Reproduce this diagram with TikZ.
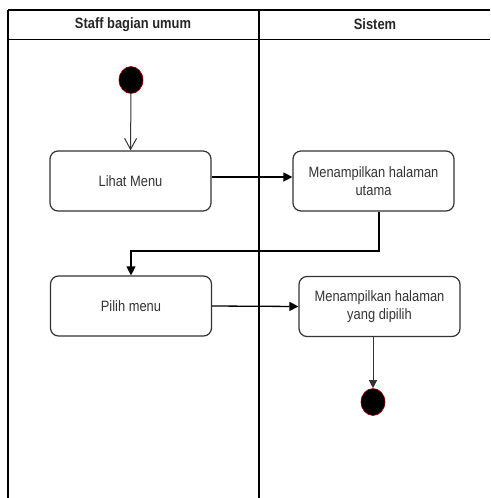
\documentclass[tikz,border=0pt]{standalone}
\usepackage{fontspec}
\setmainfont{Liberation Sans}[FakeStretch=0.86]
\usetikzlibrary{arrows.meta,shapes.geometric}

\definecolor{boxline}{HTML}{333333}
\definecolor{txt}{HTML}{333333}
\definecolor{rim}{HTML}{B00000}

\tikzset{
  lane/.style={line width=1.6pt, black},
  action/.style={draw=boxline, line width=1.2pt, rounded corners=8pt,
    minimum width=161pt, minimum height=60pt, align=center,
    text=txt, font=\fontsize{15pt}{18pt}\selectfont},
  header/.style={font=\bfseries\fontsize{15pt}{18pt}\selectfont, text=black!85},
  dot/.style={ellipse, fill=black, draw=rim, line width=0.6pt,
    minimum width=24pt, minimum height=27pt, inner sep=0pt},
  flow/.style={line width=1.3pt, black, -{Triangle[length=9pt,width=9pt]}},
  openflow/.style={line width=1pt, black!80, -{Straight Barb[length=11pt,width=12pt]}},
  thinflow/.style={line width=1pt, black!80, -{Triangle[length=8pt,width=8pt]}},
}

\begin{document}
\begin{tikzpicture}[x=1pt,y=-1pt]
  \useasboundingbox (0,0) rectangle (490,498);

  % swimlane frame
  \draw[lane] (8,10) -- (490,10);
  \draw[lane] (8,39.5) -- (490,39.5);
  \draw[lane] (8,10) -- (8,498);
  \draw[lane] (259,10) -- (259,498);

  \node[header] (lanea) at (133,24.5) {Staff bagian umum};
  \node[header] (laneb) at (375,24.5) {Sistem};

  % activities
  \node[dot] (start) at (131,80) {};
  \node[action] (lihat) at (130.5,181) {Lihat Menu};
  \node[action] (utama) at (373.5,181) {Menampilkan halaman\\utama};
  \node[action] (pilih) at (131,306) {Pilih menu};
  \node[action] (dipilih) at (379.5,306.5) {Menampilkan halaman\\yang dipilih};
  \node[dot] (end) at (373,402) {};

  \coordinate (turn) at (379,251);

  % control flow
  \draw[openflow] (start.south) -- (lihat.north);
  \draw[flow] ([yshift=4pt]lihat.east) -- ([yshift=4pt]utama.west);
  \draw[flow] (utama.south -| turn) -- (turn) -- (turn -| pilih.north) -- (pilih.north);
  \draw[flow] (pilih.east) -- (dipilih.west);
  \draw[thinflow] (dipilih.south -| end) -- (end.north);
\end{tikzpicture}
\end{document}
